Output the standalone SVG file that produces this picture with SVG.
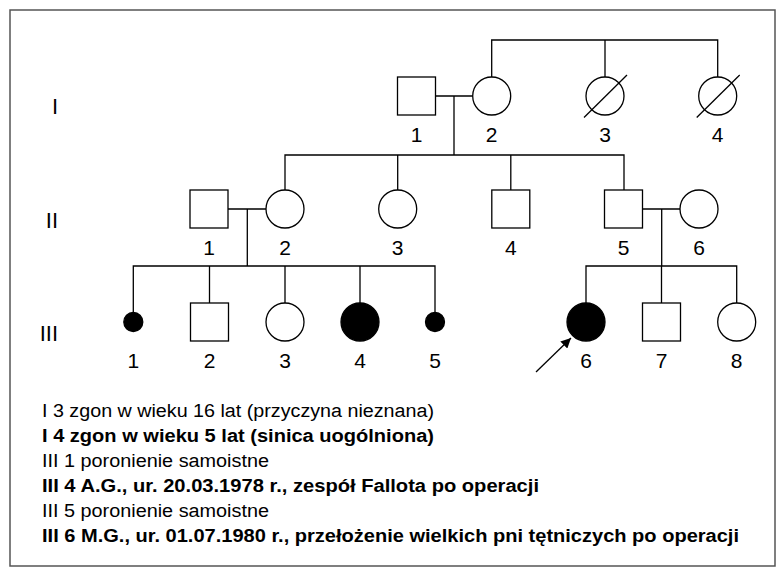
<svg xmlns="http://www.w3.org/2000/svg" width="776" height="567" viewBox="0 0 776 567">
<defs>
<style>
.ln{stroke:#000;stroke-width:1.3;fill:none}
.sh{stroke:#000;stroke-width:1.3;fill:#fff}
.af{stroke:#000;stroke-width:1.3;fill:#000}
.lb{font-family:"Liberation Sans",Arial,sans-serif;font-size:21px;fill:#000;text-anchor:middle}
.rn{font-family:"Liberation Sans",Arial,sans-serif;font-size:22px;fill:#000;text-anchor:end}
.lg{font-family:"Liberation Sans",Arial,sans-serif;font-size:18px;fill:#000}
.b{font-weight:bold}
</style>
<marker id="ah" viewBox="0 0 10 10" refX="10" refY="5" markerWidth="10" markerHeight="10" markerUnits="userSpaceOnUse" orient="auto">
<path d="M0,0 L10,5 L0,10 Z" fill="#000"/>
</marker>
</defs>
<rect x="0" y="0" width="776" height="567" fill="#fff"/>
<rect x="10" y="10" width="765" height="556" fill="none" stroke="#555" stroke-width="1.5"/>

<g id="generations">
<text class="rn" x="58" y="114">I</text>
<text class="rn" x="58" y="228">II</text>
<text class="rn" x="58" y="341">III</text>
</g>

<g id="connectors">
<path class="ln" d="M491.7,77 V40 H717.7 V77 M605,40 V77"/>
<path class="ln" d="M435.5,96 H472.7 M454,96 V155"/>
<path class="ln" d="M285,190 V155 H624 V190 M397.7,155 V190 M510.8,155 V190"/>
<path class="ln" d="M228,209 H266 M247.3,209 V266"/>
<path class="ln" d="M642.5,209 H680 M661.7,209 V266"/>
<path class="ln" d="M133.3,312.5 V266 H435 V312.5 M209.5,266 V303 M285,266 V303 M360,266 V303"/>
<path class="ln" d="M586,303 V266 H736.7 V303 M661.5,266 V303"/>
<line class="ln" x1="536" y1="372" x2="571" y2="338" marker-end="url(#ah)"/>
</g>

<g id="I-1"><rect class="sh" x="397.5" y="77" width="38" height="38"/><text class="lb" x="416.5" y="142">1</text></g>
<g id="I-2"><circle class="sh" cx="491.7" cy="96" r="19"/><text class="lb" x="491.7" y="142">2</text></g>
<g id="I-3"><circle class="sh" cx="605" cy="96" r="19"/><line class="ln" x1="584" y1="117.5" x2="627" y2="75"/><text class="lb" x="605" y="142">3</text></g>
<g id="I-4"><circle class="sh" cx="717.7" cy="96" r="19"/><line class="ln" x1="696.7" y1="117.5" x2="739.7" y2="75"/><text class="lb" x="717.7" y="142">4</text></g>

<g id="II-1"><rect class="sh" x="190" y="190" width="38" height="38"/><text class="lb" x="209" y="255">1</text></g>
<g id="II-2"><circle class="sh" cx="285" cy="209" r="19"/><text class="lb" x="285" y="255">2</text></g>
<g id="II-3"><circle class="sh" cx="397.7" cy="209" r="19"/><text class="lb" x="397.7" y="255">3</text></g>
<g id="II-4"><rect class="sh" x="491.8" y="190" width="38" height="38"/><text class="lb" x="510.8" y="255">4</text></g>
<g id="II-5"><rect class="sh" x="604.5" y="190" width="38" height="38"/><text class="lb" x="623.5" y="255">5</text></g>
<g id="II-6"><circle class="sh" cx="699" cy="209" r="19"/><text class="lb" x="699" y="255">6</text></g>

<g id="III-1"><circle class="af" cx="133.3" cy="322" r="9.5"/><text class="lb" x="133.3" y="368">1</text></g>
<g id="III-2"><rect class="sh" x="190.5" y="303" width="38" height="38"/><text class="lb" x="209.5" y="368">2</text></g>
<g id="III-3"><circle class="sh" cx="285" cy="322" r="19"/><text class="lb" x="285" y="368">3</text></g>
<g id="III-4"><circle class="af" cx="360" cy="322" r="19"/><text class="lb" x="360" y="368">4</text></g>
<g id="III-5"><circle class="af" cx="435" cy="322" r="9.5"/><text class="lb" x="435" y="368">5</text></g>
<g id="III-6"><circle class="af" cx="586" cy="322" r="19"/><text class="lb" x="586" y="368">6</text></g>
<g id="III-7"><rect class="sh" x="642.5" y="303" width="38" height="38"/><text class="lb" x="661.5" y="368">7</text></g>
<g id="III-8"><circle class="sh" cx="736.7" cy="322" r="19"/><text class="lb" x="736.7" y="368">8</text></g>

<g id="legend">
<text class="lg" x="42" y="417" textLength="392" lengthAdjust="spacingAndGlyphs">I 3 zgon w wieku 16 lat (przyczyna nieznana)</text>
<text class="lg b" x="42" y="442" textLength="392" lengthAdjust="spacingAndGlyphs">I 4 zgon w wieku 5 lat (sinica uogólniona)</text>
<text class="lg" x="42" y="467" textLength="227" lengthAdjust="spacingAndGlyphs">III 1 poronienie samoistne</text>
<text class="lg b" x="42" y="492" textLength="497" lengthAdjust="spacingAndGlyphs">III 4 A.G., ur. 20.03.1978 r., zespół Fallota po operacji</text>
<text class="lg" x="42" y="517" textLength="227" lengthAdjust="spacingAndGlyphs">III 5 poronienie samoistne</text>
<text class="lg b" x="42" y="542" textLength="697" lengthAdjust="spacingAndGlyphs">III 6 M.G., ur. 01.07.1980 r., przełożenie wielkich pni tętniczych po operacji</text>
</g>
</svg>
